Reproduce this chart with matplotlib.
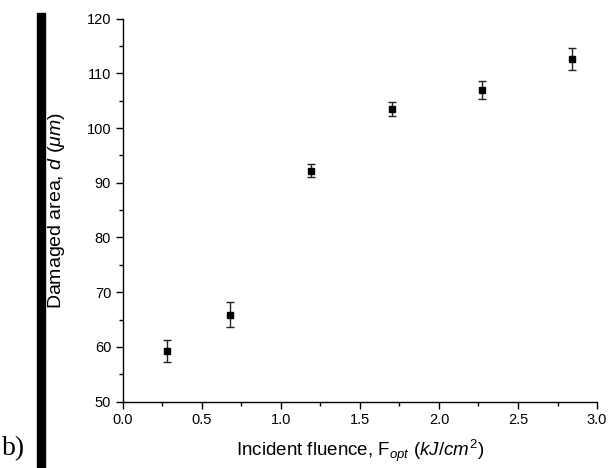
import matplotlib
matplotlib.use('Agg')
import matplotlib.pyplot as plt
from matplotlib.ticker import MultipleLocator

# data
fluence = [0.28, 0.68, 1.19, 1.70, 2.27, 2.84]
diameter = [59.3, 65.9, 92.2, 103.5, 107.0, 112.6]
diameter_err = [2.0, 2.3, 1.2, 1.2, 1.7, 2.0]

plt.rcParams['font.family'] = ['Liberation Sans', 'DejaVu Sans']
plt.rcParams['mathtext.fontset'] = 'custom'
plt.rcParams['mathtext.rm'] = 'Liberation Sans'
plt.rcParams['mathtext.it'] = 'Liberation Sans:italic'

fig = plt.figure(figsize=(6.1, 4.68), dpi=100)
ax = fig.add_axes([0.2016, 0.142, 0.7771, 0.818])

ax.errorbar(fluence, diameter, yerr=diameter_err, fmt='s', color='black',
            ecolor='#222222', elinewidth=1, capsize=3, capthick=1, markersize=4)

ax.set_xlim(0, 3.0)
ax.set_ylim(50, 120)
ax.xaxis.set_major_locator(MultipleLocator(0.5))
ax.xaxis.set_minor_locator(MultipleLocator(0.25))
ax.yaxis.set_major_locator(MultipleLocator(10))
ax.yaxis.set_minor_locator(MultipleLocator(5))
ax.xaxis.set_major_formatter(matplotlib.ticker.FormatStrFormatter('%.1f'))

for s in ['top', 'right']:
    ax.spines[s].set_visible(False)
for s in ['left', 'bottom']:
    ax.spines[s].set_linewidth(1)
ax.tick_params(which='major', direction='out', length=5, width=1, labelsize=10.5)
ax.tick_params(which='minor', direction='out', length=3, width=1)

ax.set_xlabel(r'Incident fluence, F$_{opt}$ $(kJ/cm^2)$', fontsize=13.5)
ax.set_ylabel(r'Damaged area, $d$ $(\mu m)$', fontsize=14)
ax.xaxis.set_label_coords(0.5, -0.095)
ax.yaxis.set_label_coords(-0.118, 0.5)

# black bar and panel letter on the left
fig.patches.append(plt.Rectangle((37 / 610, 0), 8 / 610, 1 - 13 / 468,
                                 transform=fig.transFigure, color='black'))
fig.text(2 / 610, 1 - 449 / 468, 'b)', fontsize=20, family='Liberation Serif',
         va='center', ha='left')

plt.savefig('out.png', dpi=100)
plt.close()
